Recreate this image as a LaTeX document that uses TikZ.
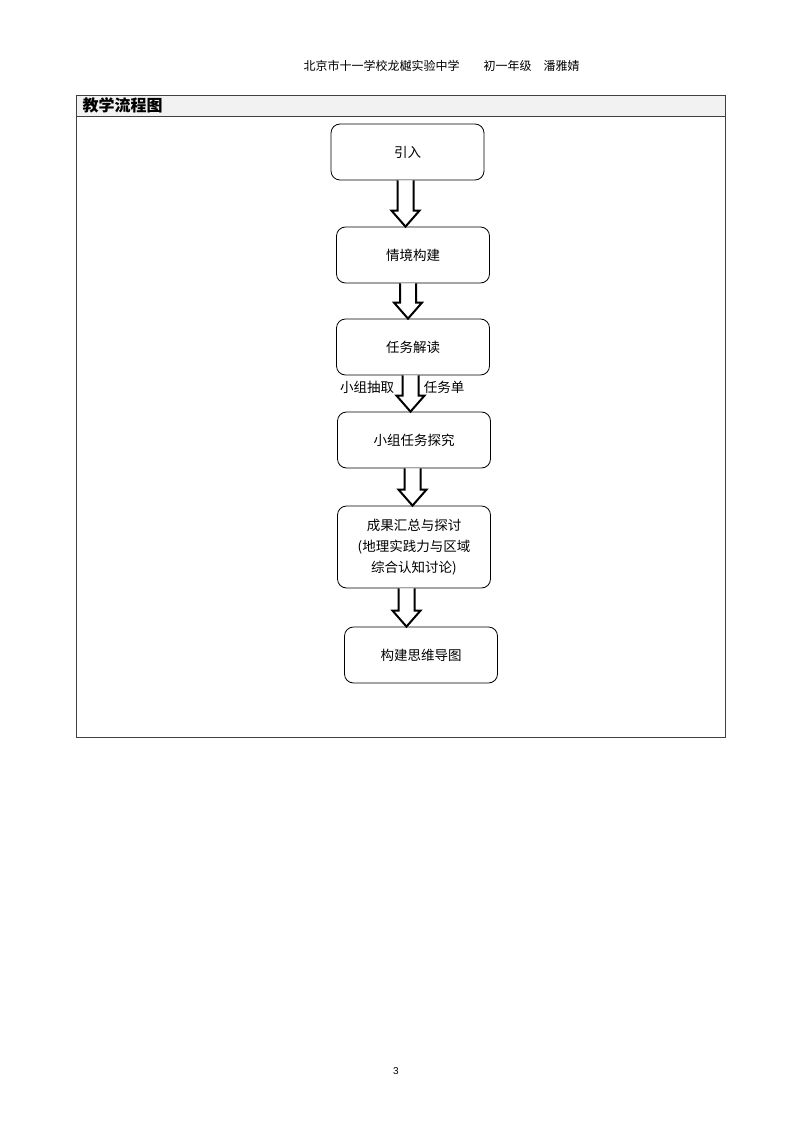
\documentclass[tikz,border=0pt]{standalone}
\usepackage{fontspec}
\setmainfont{Liberation Sans}
\newfontfamily\cjk{Noto Sans CJK SC}
\usetikzlibrary{calc}

\begin{document}
\begin{tikzpicture}[x=1pt,y=-1pt,
     box/.style={draw,rounded corners=9pt,minimum width=153pt,minimum height=56pt,
                 align=center,line width=0.8pt,font=\cjk\fontsize{13.5}{21}\selectfont},
     lbl/.style={font=\cjk\fontsize{13.5}{16}\selectfont},
     blockarrow/.style={draw,line width=2pt,fill=white,line join=miter}
     ]
   \useasboundingbox (0,0) rectangle (794,1123);

   % page header
   \node (school) at (441.5,66)
      {\cjk\fontsize{12}{14}\selectfont 北京市十一学校龙樾实验中学\hspace{2em}初一年级\hspace{1em}潘雅婧};

   % table frame with grey title row
   \draw[draw=black!75,line width=0.8pt,fill=black!5] (76,95) rectangle (725,116);
   \draw[draw=black!75,line width=0.8pt] (76,116) rectangle (725,737);
   \node[anchor=west] (title) at (79,105.5)
      {\cjk\bfseries\fontsize{16}{18}\selectfont 教学流程图};

   % flow steps
   \node[box] (intro)   at (407.5,152) {引入};
   \node[box] (scene)   at (413,255)   {情境构建};
   \node[box] (task)    at (413,347)   {任务解读};
   \node[box] (explore) at (414,440)   {小组任务探究};
   \node[box,minimum height=82pt] (result) at (414,547)
      {成果汇总与探讨\\(地理实践力与区域\\综合认知讨论)};
   \node[box] (mindmap) at (421,655)   {构建思维导图};

   \node[lbl] (draw)  at (367,387) {小组抽取};
   \node[lbl] (sheet) at (444,387) {任务单};

   % hollow block arrows between the steps, \xa = x of the arrow axis
   \foreach \xa/\from/\to in {405.5/intro/scene,
                              408/scene/task,
                              410.5/task/explore,
                              412.5/explore/result,
                              406.5/result/mindmap}
   {
     \draw[blockarrow] let \p1=(\from.south), \p2=(\to.north) in
        (\xa-8,\y1) -- (\xa-8,\y2+16pt) -- (\xa-14,\y2+16pt) -- (\xa,\y2)
        -- (\xa+14,\y2+16pt) -- (\xa+8,\y2+16pt) -- (\xa+8,\y1);
   }

   \node (page) at (396,1071) {\fontsize{10}{12}\selectfont 3};
\end{tikzpicture}
\end{document}
